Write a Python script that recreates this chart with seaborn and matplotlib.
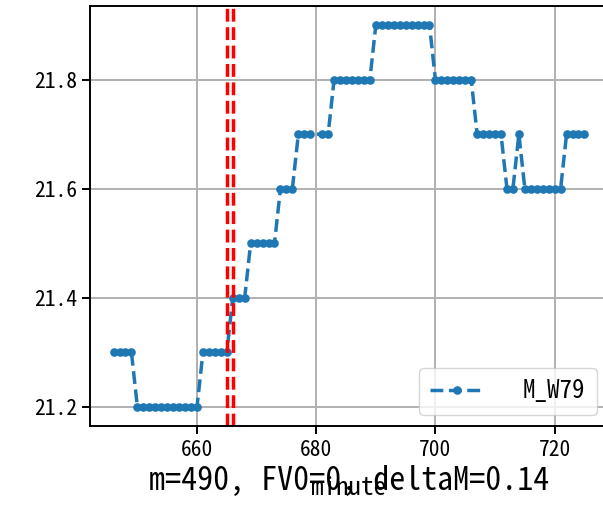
import matplotlib
matplotlib.use("Agg")
import matplotlib.pyplot as plt
import seaborn as sns
import pandas as pd

plt.rcParams['font.family'] = ['Noto Sans Mono CJK SC', 'Noto Sans CJK SC', 'DejaVu Sans']
plt.rcParams['axes.unicode_minus'] = False

minutes = [646, 647, 648, 649,
           650, 651, 652, 653, 654, 655, 656, 657, 658, 659, 660,
           661, 662, 663, 664, 665,
           666, 667, 668,
           669, 670, 671, 672, 673,
           674, 675, 676,
           677, 678, 679,
           681, 682,
           683, 684, 685, 686, 687, 688, 689,
           690, 691, 692, 693, 694, 695, 696, 697, 698, 699,
           700, 701, 702, 703, 704, 705, 706,
           707, 708, 709, 710, 711,
           712, 713,
           714,
           715, 716, 717, 718, 719, 720, 721,
           722, 723, 724, 725]
values = [21.3, 21.3, 21.3, 21.3,
          21.2, 21.2, 21.2, 21.2, 21.2, 21.2, 21.2, 21.2, 21.2, 21.2, 21.2,
          21.3, 21.3, 21.3, 21.3, 21.3,
          21.4, 21.4, 21.4,
          21.5, 21.5, 21.5, 21.5, 21.5,
          21.6, 21.6, 21.6,
          21.7, 21.7, 21.7,
          21.7, 21.7,
          21.8, 21.8, 21.8, 21.8, 21.8, 21.8, 21.8,
          21.9, 21.9, 21.9, 21.9, 21.9, 21.9, 21.9, 21.9, 21.9, 21.9,
          21.8, 21.8, 21.8, 21.8, 21.8, 21.8, 21.8,
          21.7, 21.7, 21.7, 21.7, 21.7,
          21.6, 21.6,
          21.7,
          21.6, 21.6, 21.6, 21.6, 21.6, 21.6, 21.6,
          21.7, 21.7, 21.7, 21.7]
series_name = "M_W79"
vlines = [665, 666]
xticks = [660, 680, 700, 720]
yticks = [21.2, 21.4, 21.6, 21.8]
title_text = "m=490, FV0=0, deltaM=0.14"
xlabel_text = "minute"

df = pd.DataFrame({"minute": minutes, "value": values})

fig = plt.figure(figsize=(6.03, 5.05), dpi=100)
ax = fig.add_axes([90/603, 1 - 426/505, 518/603, 420/505])

blue = "#1f77b4"
sns.lineplot(data=df, x="minute", y="value", ax=ax, color=blue,
             linestyle="--", marker=".", markersize=10, linewidth=2.5,
             markeredgecolor=blue, markeredgewidth=1.2, label=series_name,
             sort=False)
for v in vlines:
    ax.axvline(v, color="red", linestyle="--", linewidth=2.5)

ax.set_xticks(xticks)
ax.set_yticks(yticks)
ax.set_yticklabels([f"{t:.1f}" for t in yticks])
ax.grid(True, color="#b0b0b0", linewidth=1.4)
ax.set_axisbelow(True)
ax.tick_params(labelsize=15.5, length=6, width=1.4)
for s in ax.spines.values():
    s.set_linewidth(1.4)
    s.set_color("black")
ax.set_ylabel("")
ax.set_xlabel(xlabel_text, fontsize=18, labelpad=11)
ax.set_title(title_text, fontsize=23, y=-0.152, pad=0)
ax.legend(loc="lower right", fontsize=18, handlelength=2.1,
          handletextpad=1.6, borderpad=0.45, borderaxespad=0.45)

fig.savefig("out.png", dpi=100)
